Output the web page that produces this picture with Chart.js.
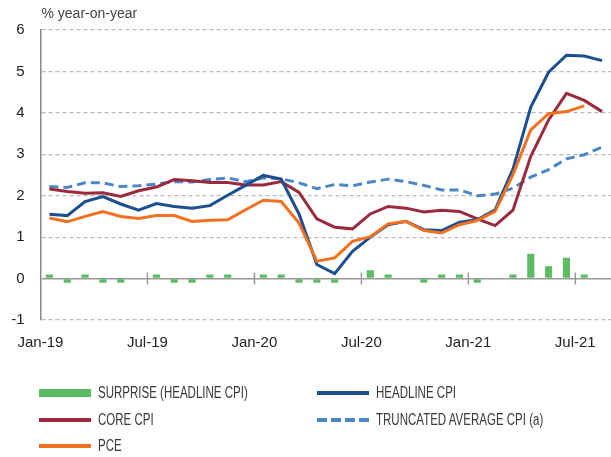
<!DOCTYPE html>
<html>
<head>
<meta charset="utf-8">
<script src="https://cdn.jsdelivr.net/npm/chart.js@4.4.1/dist/chart.umd.min.js"></script>
<style>
body { margin: 0; background: #fff; font-family: "Liberation Sans", Arial, sans-serif; }
#wrap { position: relative; width: 611px; height: 366px; }
#legend { position: absolute; left: 0; top: 0; width: 611px; height: 457px; pointer-events: none;
  font-family: "Liberation Sans", Arial, sans-serif; font-size: 16px; color: #3a3a3a; }
.item { position: absolute; height: 20px; display: flex; align-items: center; white-space: nowrap; }
.item span { display: inline-block; transform: scaleX(0.72); transform-origin: left center; }
.sw { width: 52px; margin-right: 7px; }
</style>
</head>
<body>
<div id="wrap"><canvas id="chart"></canvas></div>
<div id="legend"></div>
<script>
const months = ['Jan-19','Feb-19','Mar-19','Apr-19','May-19','Jun-19','Jul-19','Aug-19','Sep-19','Oct-19','Nov-19','Dec-19',
  'Jan-20','Feb-20','Mar-20','Apr-20','May-20','Jun-20','Jul-20','Aug-20','Sep-20','Oct-20','Nov-20','Dec-20',
  'Jan-21','Feb-21','Mar-21','Apr-21','May-21','Jun-21','Jul-21','Aug-21'];

const surprise  = [0.1,-0.1,0.1,-0.1,-0.1,0,0.1,-0.1,-0.1,0.1,0.1,0,0.1,0.1,-0.1,-0.1,-0.1,0,0.2,0.1,0,-0.1,0.1,0.1,-0.1,0,0.1,0.6,0.3,0.5,0.1,null];
const headline  = [1.55,1.52,1.86,1.98,1.80,1.65,1.81,1.74,1.70,1.76,2.01,2.25,2.49,2.40,1.56,0.34,0.12,0.66,1.00,1.30,1.38,1.18,1.16,1.36,1.42,1.66,2.64,4.14,4.98,5.39,5.37,5.26];
const core      = [2.16,2.10,2.06,2.07,1.98,2.12,2.21,2.39,2.36,2.32,2.32,2.26,2.26,2.34,2.08,1.44,1.24,1.20,1.56,1.74,1.70,1.61,1.65,1.62,1.44,1.28,1.65,2.95,3.83,4.47,4.30,4.03];
const truncated = [2.22,2.20,2.31,2.31,2.22,2.24,2.28,2.34,2.33,2.39,2.43,2.34,2.43,2.41,2.31,2.17,2.27,2.24,2.33,2.40,2.34,2.25,2.14,2.14,2.00,2.04,2.18,2.45,2.63,2.89,2.99,3.17];
const pce       = [1.46,1.37,1.50,1.62,1.50,1.45,1.52,1.52,1.38,1.41,1.42,1.66,1.89,1.86,1.34,0.42,0.50,0.90,1.01,1.32,1.38,1.16,1.10,1.30,1.40,1.62,2.51,3.59,3.98,4.03,4.17,null];
const yTicks = [-1, 0, 1, 2, 3, 4, 5, 6];

const spendingChart = document.getElementById('chart');

// title and the small ticks that cross the zero line
const extras = {
    id: 'extras',
    beforeDatasetsDraw(chart) {
        const x = chart.scales.x, y = chart.scales.y
        const half = (x.getPixelForValue(1) - x.getPixelForValue(0)) / 2
        const y0 = y.getPixelForValue(0)
        const c = chart.ctx
        c.save()
        c.strokeStyle = '#999'
        c.lineWidth = 1.5
        for (let i = 6; i < months.length; i += 6) {
            const px = x.getPixelForValue(i) - half
            c.beginPath()
            c.moveTo(px, y0 - 6)
            c.lineTo(px, y0 + 6)
            c.stroke()
        }
        c.restore()
    },
    afterDraw(chart) {
        const c = chart.ctx
        c.save()
        c.font = '14px "Liberation Sans", Arial, sans-serif'
        c.fillStyle = '#444'
        c.textBaseline = 'middle'
        c.fillText('% year-on-year', chart.chartArea.left + 1, 14)
        c.restore()
    }
}

const chart = new Chart(spendingChart, {
    type: 'bar',
    data: {
        labels: months,
        datasets: [{
            type: 'bar',
            label: 'SURPRISE (HEADLINE CPI)',
            data: surprise,
            backgroundColor: '#5dbb63',
            categoryPercentage: 1,
            barPercentage: 0.4,
            order: 5,
            legendRow: 0, legendCol: 0, swatch: 8.5
        }, {
            type: 'line',
            label: 'HEADLINE CPI',
            data: headline,
            borderColor: '#1d4e8f',
            borderWidth: 3,
            pointRadius: 0,
            tension: 0,
            order: 2,
            legendRow: 0, legendCol: 1, swatch: 4
        }, {
            type: 'line',
            label: 'CORE CPI',
            data: core,
            borderColor: '#9b2a3d',
            borderWidth: 3,
            pointRadius: 0,
            tension: 0,
            order: 3,
            legendRow: 1, legendCol: 0, swatch: 4
        }, {
            type: 'line',
            label: 'TRUNCATED AVERAGE CPI (a)',
            data: truncated,
            borderColor: '#4a86c8',
            borderWidth: 3,
            borderDash: [9, 5],
            pointRadius: 0,
            tension: 0,
            order: 4,
            legendRow: 1, legendCol: 1, swatch: 4
        }, {
            type: 'line',
            label: 'PCE',
            data: pce,
            borderColor: '#f37021',
            borderWidth: 3,
            pointRadius: 0,
            tension: 0,
            order: 1,
            legendRow: 2, legendCol: 0, swatch: 4
        }]
    },
    options: {
        responsive: true,
        maintainAspectRatio: false,
        animation: false,
        layout: { padding: { top: 30, left: 9, right: 0, bottom: 0 } },
        scales: {
            x: {
                offset: true,
                grid: { display: false, drawTicks: false },
                border: { display: false },
                afterFit: axis => { axis.paddingLeft = 0; axis.paddingRight = 0 },
                ticks: {
                    autoSkip: false,
                    maxRotation: 0,
                    padding: 14,
                    labelOffset: -9,
                    color: '#222',
                    font: { size: 15 },
                    callback: (v, i) => i % 6 === 0 ? months[i] : ''
                }
            },
            y: {
                min: -1,
                max: 6,
                afterBuildTicks: axis => { axis.ticks = yTicks.map(v => ({ value: v })) },
                afterFit: axis => { axis.width = 31.5 },
                ticks: { color: '#222', font: { size: 15 }, padding: 16 },
                grid: {
                    drawTicks: false,
                    color: ctx => ctx.tick && ctx.tick.value === 0 ? '#999' : '#bbb',
                    lineWidth: ctx => ctx.tick && ctx.tick.value === 0 ? 1.5 : 1.2
                },
                border: {
                    color: '#888',
                    width: 1.5,
                    dash: ctx => ctx.tick && ctx.tick.value === 0 ? [] : [4, 3]
                }
            }
        },
        plugins: {
            legend: { display: false },
            tooltip: { enabled: false }
        }
    },
    plugins: [extras]
});

// legend in two columns, built from the datasets
const legend = document.getElementById('legend')
const colX = [39, 317]
const rowY = [393, 420, 446]
chart.data.datasets.forEach(ds => {
    const item = document.createElement('div')
    item.className = 'item'
    item.style.left = colX[ds.legendCol] + 'px'
    item.style.top = (rowY[ds.legendRow] - 10) + 'px'
    const sw = document.createElement('div')
    sw.className = 'sw'
    sw.style.height = ds.swatch + 'px'
    const col = ds.type === 'bar' ? ds.backgroundColor : ds.borderColor
    sw.style.background = ds.borderDash
        ? 'repeating-linear-gradient(90deg, ' + col + ' 0 10px, transparent 10px 14px)'
        : col
    const txt = document.createElement('span')
    txt.textContent = ds.label
    item.appendChild(sw)
    item.appendChild(txt)
    legend.appendChild(item)
})
</script>
</body>
</html>
